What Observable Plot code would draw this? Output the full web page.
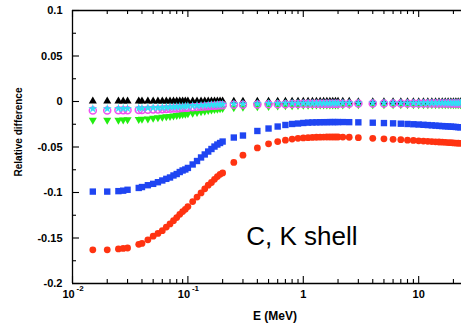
<!DOCTYPE html>
<html><head><meta charset="utf-8">
<script src="https://cdn.jsdelivr.net/npm/d3@7"></script>
<script src="https://cdn.jsdelivr.net/npm/@observablehq/plot@0.6"></script>
<style>html,body{margin:0;padding:0;background:#fff;} svg{display:block;}</style>
</head><body><div id="chart"></div>
<script>
const energy = [0.015,0.02,0.025,0.0275,0.03,0.0375,0.04,0.045,0.05,0.055,0.06,0.065,0.07,0.075,0.08,0.085,0.09,0.095,0.1,
  0.11,0.12,0.13,0.14,0.15,0.16,0.17,0.18,0.19,0.2,
  0.25,0.3,0.4,0.5,0.6,0.7,0.8,0.9,1.0,
  1.1,1.2,1.3,1.4,1.5,1.6,1.7,1.8,1.9,2.0,2.2,2.5,
  3,4,5,6,7,8,9,10,
  11,12,13,14,15,16,17,18,19,20,21,22,23];
const redVals = [-0.163,-0.163,-0.162,-0.1615,-0.161,-0.157,-0.156,-0.152,-0.148,-0.145,-0.142,-0.138,-0.1345,-0.131,-0.1275,-0.124,-0.121,-0.1185,-0.1155,
  -0.110,-0.105,-0.1005,-0.096,-0.092,-0.089,-0.0855,-0.0825,-0.080,-0.0785,
  -0.067,-0.059,-0.051,-0.0465,-0.044,-0.0425,-0.0413,-0.0405,-0.040,
  -0.0397,-0.0395,-0.0393,-0.0392,-0.0391,-0.039,-0.039,-0.039,-0.039,-0.039,-0.0391,-0.0393,
  -0.0397,-0.0405,-0.041,-0.0416,-0.042,-0.0425,-0.0428,-0.0432,
  -0.0435,-0.0438,-0.044,-0.0443,-0.0445,-0.0447,-0.0449,-0.0451,-0.0453,-0.0455,-0.0457,-0.0459,-0.046];
const blueVals = [-0.099,-0.099,-0.0985,-0.098,-0.097,-0.095,-0.094,-0.092,-0.0905,-0.0887,-0.0868,-0.085,-0.0835,-0.0813,-0.0797,-0.0775,-0.0758,-0.0747,-0.073,
  -0.0692,-0.0654,-0.0615,-0.0582,-0.055,-0.0522,-0.0495,-0.0473,-0.0456,-0.044,
  -0.0396,-0.0374,-0.0324,-0.0297,-0.0275,-0.0258,-0.0247,-0.0242,-0.0236,
  -0.0232,-0.023,-0.0229,-0.0228,-0.0227,-0.0227,-0.0226,-0.0226,-0.0226,-0.0226,-0.0226,-0.0227,
  -0.0229,-0.0233,-0.0237,-0.024,-0.0244,-0.0247,-0.025,-0.0253,
  -0.0256,-0.0259,-0.0262,-0.0265,-0.0268,-0.027,-0.0272,-0.0274,-0.0276,-0.0278,-0.028,-0.0282,-0.0284];
const greenVals = [-0.0205,-0.0205,-0.0203,-0.0202,-0.02,-0.0195,-0.0193,-0.019,-0.0183,-0.0177,-0.0172,-0.0167,-0.0162,-0.0157,-0.0152,-0.0147,-0.0142,-0.0138,-0.0134,
  -0.0126,-0.0118,-0.0111,-0.0104,-0.0098,-0.0092,-0.0087,-0.0082,-0.0078,-0.0075,
  -0.0068,-0.0062,-0.0056,-0.0052,-0.0049,-0.0046,-0.0044,-0.0042,-0.004,
  -0.0039,-0.0039,-0.0038,-0.0038,-0.0037,-0.0037,-0.0037,-0.0036,-0.0036,-0.0036,-0.0036,-0.0035,
  -0.0035,-0.0035,-0.0035,-0.0035,-0.0035,-0.0035,-0.0035,-0.0035,
  -0.0035,-0.0035,-0.0035,-0.0035,-0.0035,-0.0035,-0.0035,-0.0035,-0.0035,-0.0035,-0.0035,-0.0035,-0.0035];
const blackVals = [0.0005,0.0005,0.0005,0.0005,0.0005,0.0005,0.0005,0.0005,0.0005,0.0005,0.0005,0.0005,0.0005,0.0005,0.0005,0.0005,0.0005,0.0005,0.0005,
  0.0005,0.0005,0.0005,0.0005,0.0005,0.0005,0.0005,0.0005,0.0005,0.0005,
  0,0,0,0,0,0,0,0,0,
  0,0,0,0,0,0,0,0,0,0,0,0,
  -0.0005,-0.0005,-0.0005,-0.0005,-0.0005,-0.0005,-0.0005,-0.0005,
  -0.0005,-0.0005,-0.0005,-0.0005,-0.0005,-0.0005,-0.0005,-0.0005,-0.0005,-0.0005,-0.0005,-0.0005,-0.0005];
const magentaVals = [-0.0098,-0.0098,-0.0097,-0.0097,-0.0096,-0.0094,-0.0093,-0.0091,-0.0089,-0.0087,-0.0085,-0.0082,-0.008,-0.0078,-0.0076,-0.0074,-0.0072,-0.007,-0.0068,
  -0.0064,-0.006,-0.0057,-0.0054,-0.0051,-0.0048,-0.0046,-0.0044,-0.0042,-0.004,
  -0.0037,-0.0035,-0.0033,-0.0031,-0.003,-0.0029,-0.0028,-0.0027,-0.0026,
  -0.0026,-0.0026,-0.0025,-0.0025,-0.0025,-0.0025,-0.0024,-0.0024,-0.0024,-0.0024,-0.0024,-0.0024,
  -0.0023,-0.0023,-0.0023,-0.0023,-0.0023,-0.0023,-0.0023,-0.0023,
  -0.0022,-0.0022,-0.0022,-0.0022,-0.0022,-0.0022,-0.0022,-0.0022,-0.0022,-0.0022,-0.0022,-0.0022,-0.0022];
const cyanVals = [-0.0078,-0.0078,-0.0077,-0.0077,-0.0076,-0.0074,-0.0073,-0.0071,-0.0069,-0.0067,-0.0065,-0.0063,-0.0061,-0.0059,-0.0057,-0.0055,-0.0053,-0.0051,-0.005,
  -0.0047,-0.0044,-0.0042,-0.004,-0.0038,-0.0036,-0.0034,-0.0033,-0.0032,-0.003,
  -0.0028,-0.0026,-0.0024,-0.0022,-0.0021,-0.002,-0.0019,-0.0019,-0.0018,
  -0.0018,-0.0018,-0.0018,-0.0018,-0.0018,-0.0018,-0.0018,-0.0018,-0.0018,-0.0018,-0.0017,-0.0017,
  -0.0017,-0.0017,-0.0017,-0.0017,-0.0017,-0.0017,-0.0017,-0.0017,
  -0.0016,-0.0016,-0.0016,-0.0016,-0.0016,-0.0016,-0.0016,-0.0016,-0.0016,-0.0016,-0.0016,-0.0016,-0.0016];

const yTicks = [-0.2,-0.15,-0.1,-0.05,0,0.05,0.1];
const yTickLabels = ["-0.2","-0.15","-0.1","-0.05","0","0.05","0.1"];
const yMinor = [-0.175,-0.125,-0.075,-0.025,0.025,0.075];
const xDecades = [0.01,0.1,1,10];
const xPowBase = [0.01,0.1];
const xPowExp = ["-2","-1"];
const xPlain = [1,10];
const xPlainLabels = ["1","10"];
const xMinor = [0.02,0.03,0.04,0.05,0.06,0.07,0.08,0.09,0.2,0.3,0.4,0.5,0.6,0.7,0.8,0.9,2,3,4,5,6,7,8,9,20];
const xTitle = "E (MeV)";
const yTitle = "Relative difference";
const annotation = ["C, K shell"];
const annotationE = [0.32];
const annotationY = [-0.158];

const rows = energy.map((E, i) => ({E, red: redVals[i], blue: blueVals[i], green: greenVals[i],
  black: blackVals[i], magenta: magentaVals[i], cyan: cyanVals[i]}));

const W = 461, H = 324, mL = 72, mR = 0, mT = 10, mB = 41;
const pw = W - mL - mR, ph = H - mT - mB;
const font = "'Liberation Sans', Arial, Helvetica, sans-serif";

const triangleDown = {
  draw(context, size) {
    const y = -Math.sqrt(size / (Math.sqrt(3) * 3));
    const s3 = Math.sqrt(3);
    context.moveTo(0, -y * 2);
    context.lineTo(-s3 * y, y);
    context.lineTo(s3 * y, y);
    context.closePath();
  }
};

const plot = Plot.plot({
  width: W, height: H,
  marginLeft: mL, marginRight: mR, marginTop: mT, marginBottom: mB,
  x: {type: "log", domain: [0.01, 23.5], axis: null},
  y: {domain: [-0.2, 0.1], axis: null},
  style: {fontFamily: font, background: "white", overflow: "hidden"},
  marks: [
    Plot.dot(rows, {x: "E", y: "red", symbol: "circle", r: 3.4, fill: "#ff3311"}),
    Plot.dot(rows, {x: "E", y: "blue", symbol: "square", r: 3.6, fill: "#1f45f2"}),
    Plot.dot(rows, {x: "E", y: "green", symbol: triangleDown, r: 3.0, fill: "#22ee11"}),
    Plot.dot(rows, {x: "E", y: "black", symbol: "triangle", r: 3.0, fill: "#000000"}),
    Plot.dot(rows, {x: "E", y: "magenta", symbol: "circle", r: 3.5, fill: "none", stroke: "#f050f0", strokeWidth: 1.5}),
    Plot.dot(rows, {x: "E", y: "cyan", symbol: "star", r: 2.8, fill: "#33ddf5"}),
    Plot.ruleX([0.01], {stroke: "#000", strokeWidth: 1.3}),
    Plot.ruleY([0.1, -0.2], {stroke: "#000", strokeWidth: 1.3}),
    Plot.ruleY(yTicks, {y: d => d, insetRight: pw - 7, stroke: "#000", strokeWidth: 1.1}),
    Plot.ruleY(yMinor, {y: d => d, insetRight: pw - 4, stroke: "#000", strokeWidth: 1.1}),
    Plot.ruleX(xDecades, {x: d => d, insetTop: ph - 7, stroke: "#000", strokeWidth: 1.1}),
    Plot.ruleX(xMinor, {x: d => d, insetTop: ph - 4, stroke: "#000", strokeWidth: 1.1}),
    Plot.ruleX(xDecades, {x: d => d, insetBottom: ph - 7, stroke: "#000", strokeWidth: 1.1}),
    Plot.ruleX(xMinor, {x: d => d, insetBottom: ph - 4, stroke: "#000", strokeWidth: 1.1}),
    Plot.text(yTicks, {y: d => d, text: (d, i) => yTickLabels[i], frameAnchor: "left", textAnchor: "end", dx: -10,
      fontSize: 11, fontWeight: "bold", fill: "#000"}),
    Plot.text(xPowBase, {x: d => d, text: () => "10", frameAnchor: "bottom", dy: 14, dx: -4,
      fontSize: 11, fontWeight: "bold", fill: "#000"}),
    Plot.text(xPowBase, {x: d => d, text: (d, i) => xPowExp[i], frameAnchor: "bottom", dy: 7, dx: 4, textAnchor: "start",
      fontSize: 8, fontWeight: "bold", fill: "#000"}),
    Plot.text(xPlain, {x: d => d, text: (d, i) => xPlainLabels[i], frameAnchor: "bottom", dy: 14,
      fontSize: 11, fontWeight: "bold", fill: "#000"}),
    Plot.text(annotation, {x: annotationE, y: annotationY, text: d => d, textAnchor: "start",
      fontSize: 26, fill: "#000", lineAnchor: "bottom"})
  ]
});

const svg = d3.select(plot);
svg.append("text")
  .attr("transform", "translate(19,132) rotate(-90)")
  .attr("text-anchor", "middle").attr("dominant-baseline", "middle")
  .attr("font-family", font).attr("font-size", 10).attr("font-weight", "bold")
  .attr("fill", "#000").text(yTitle);
svg.append("text")
  .attr("x", 275).attr("y", 320)
  .attr("text-anchor", "middle")
  .attr("font-family", font).attr("font-size", 12).attr("font-weight", "bold")
  .attr("fill", "#000").text(xTitle);

document.getElementById("chart").appendChild(plot);
</script>
</body></html>
